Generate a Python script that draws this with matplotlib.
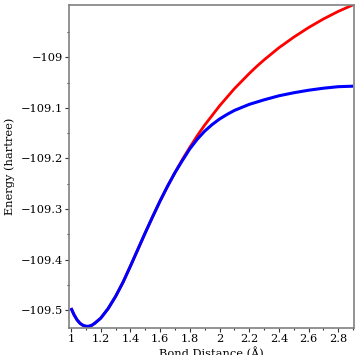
import matplotlib

matplotlib.use("Agg")
import matplotlib.pyplot as plt
from matplotlib.ticker import FixedLocator, FuncFormatter

# shared part of both curves (bond distance in angstrom, energy in hartree)
shared_r = [1.00, 1.02, 1.04, 1.06, 1.08, 1.10, 1.12, 1.14, 1.16, 1.18, 1.20,
            1.25, 1.30, 1.35, 1.40, 1.45, 1.50, 1.55, 1.60, 1.65, 1.70]
shared_e = [-109.496, -109.509, -109.519, -109.526, -109.530, -109.532, -109.532,
            -109.530, -109.526, -109.521, -109.516, -109.497, -109.473, -109.445,
            -109.413, -109.380, -109.347, -109.315, -109.284, -109.255, -109.228]

red_r = [1.75, 1.80, 1.85, 1.90, 1.95, 2.00, 2.05, 2.10, 2.15, 2.20, 2.25,
         2.30, 2.40, 2.50, 2.60, 2.70, 2.80, 2.90]
red_e = [-109.202, -109.178, -109.155, -109.134, -109.115, -109.096, -109.079,
         -109.062, -109.047, -109.032, -109.018, -109.005, -108.981, -108.960,
         -108.941, -108.924, -108.909, -108.896]

blue_r = [1.75, 1.80, 1.85, 1.90, 1.95, 2.00, 2.05, 2.10, 2.15, 2.20, 2.30,
          2.40, 2.50, 2.60, 2.70, 2.80, 2.90]
blue_e = [-109.204, -109.181, -109.162, -109.146, -109.133, -109.122, -109.113,
          -109.105, -109.099, -109.093, -109.084, -109.076, -109.070, -109.065,
          -109.061, -109.058, -109.057]

x_major = [1.0, 1.2, 1.4, 1.6, 1.8, 2.0, 2.2, 2.4, 2.6, 2.8]
x_minor = [1.1, 1.3, 1.5, 1.7, 1.9, 2.1, 2.3, 2.5, 2.7, 2.9]
y_major = [-109.5, -109.4, -109.3, -109.2, -109.1, -109.0]
y_minor = [-109.45, -109.35, -109.25, -109.15, -109.05, -108.95]


def fmt(value, _pos):
    return f"{value:g}".replace("-", "\u2212")


def main() -> None:
    plt.rcParams.update({"font.family": "DejaVu Serif", "font.size": 8.2})

    fig = plt.figure(figsize=(3.55, 3.55), dpi=100)
    ax = fig.add_axes([0.1944, 0.0752, 0.8028, 0.9107])

    ax.plot(shared_r + red_r, shared_e + red_e, color="#ff0000", linewidth=2.0,
            solid_capstyle="butt")
    ax.plot(shared_r + blue_r, shared_e + blue_e, color="#0000ff", linewidth=2.2,
            solid_capstyle="butt")

    ax.set_xlim(0.9865, 2.9057)
    ax.set_ylim(-109.536, -108.8964)

    ax.xaxis.set_major_locator(FixedLocator(x_major))
    ax.xaxis.set_minor_locator(FixedLocator(x_minor))
    ax.yaxis.set_major_locator(FixedLocator(y_major))
    ax.yaxis.set_minor_locator(FixedLocator(y_minor))
    ax.xaxis.set_major_formatter(FuncFormatter(fmt))
    ax.yaxis.set_major_formatter(FuncFormatter(fmt))

    for spine in ax.spines.values():
        spine.set_color("#808080")
        spine.set_linewidth(1.2)
    ax.tick_params(which="major", direction="out", length=2.6, width=0.8,
                   color="#333333", pad=1.5)
    ax.tick_params(which="minor", direction="out", length=1.6, width=0.8,
                   color="#333333")

    fig.text(211.5 / 355, 1 - 346.5 / 355, "Bond Distance (Å)", ha="center", va="top")
    fig.text(9.5 / 355, 1 - 166.5 / 355, "Energy (hartree)", rotation=90,
             ha="center", va="center")

    fig.savefig("out.png", dpi=100)
    plt.close(fig)


if __name__ == "__main__":
    main()
